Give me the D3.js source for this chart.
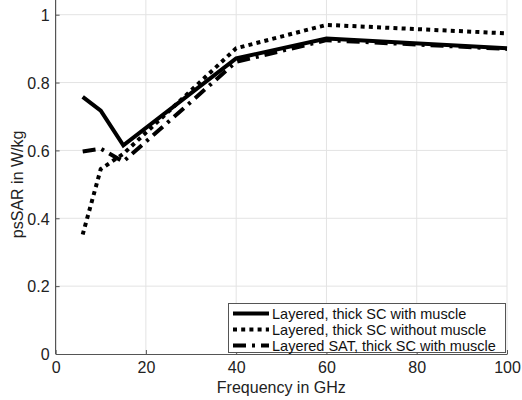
<!DOCTYPE html>
<html>
<head>
<meta charset="utf-8">
<script src="https://cdn.jsdelivr.net/npm/d3@7"></script>
<style>
  body { margin: 0; background: #fff; }
  svg { display: block; font-family: "Liberation Sans", Arial, sans-serif; }
</style>
</head>
<body>
<svg id="chart"></svg>
<script>
// frequencies (GHz)
const freqs = [6, 10, 15, 40, 60, 100];
// psSAR in W/kg
const withMuscle    = [0.758, 0.717, 0.615, 0.871, 0.930, 0.901];
const withoutMuscle = [0.352, 0.545, 0.59, 0.901, 0.970, 0.945];
const satMuscle     = [0.597, 0.605, 0.567, 0.861, 0.925, 0.899];
const seriesNames = ["Layered, thick SC with muscle", "Layered, thick SC without muscle", "Layered  SAT, thick SC with muscle"];
const xTicks = [0, 20, 40, 60, 80, 100];
const yTicks = [0, 0.2, 0.4, 0.6, 0.8, 1];

let width = 522, height = 400;
let svg = d3.select("#chart").attr("width", width).attr("height", height);

let x = d3.scaleLinear().domain([0, 100]).range([55.6, 507]);
let y = d3.scaleLinear().domain([0, 1]).range([354, 14.7]);
let yTop = 0;

// grid
svg.append("g").selectAll("line.vg")
    .data(xTicks.slice(1))
    .join("line")
    .attr("x1", d => x(d)).attr("x2", d => x(d))
    .attr("y1", y(0)).attr("y2", yTop)
    .attr("stroke", "#e3e3e3").attr("stroke-width", 1);
svg.append("g").selectAll("line.hg")
    .data(yTicks.slice(1))
    .join("line")
    .attr("x1", x(0)).attr("x2", x(100))
    .attr("y1", d => y(d)).attr("y2", d => y(d))
    .attr("stroke", "#e3e3e3").attr("stroke-width", 1);

// axes
let xAxis = svg.append("g")
    .attr("transform", "translate(0," + y(0) + ")")
    .call(d3.axisBottom(x).tickValues(xTicks).tickSizeInner(-4).tickSizeOuter(0).tickPadding(8));
let yAxis = svg.append("g")
    .attr("transform", "translate(" + x(0) + ",0)")
    .call(d3.axisLeft(y).tickValues(yTicks).tickFormat(d => d3.format("")(d)).tickSizeInner(-4).tickSizeOuter(0).tickPadding(6));
yAxis.select(".domain").attr("d", "M0," + y(0) + "V" + yTop);
[xAxis, yAxis].forEach(a => {
    a.select(".domain").attr("stroke", "#555").attr("stroke-width", 1.2);
    a.selectAll(".tick line").attr("stroke", "#555");
    a.selectAll(".tick text").attr("font-size", "16px").attr("fill", "#222")
        .attr("font-family", "Liberation Sans, Arial, sans-serif");
});
xAxis.selectAll(".tick text").attr("dy", "0.71em");
yAxis.selectAll(".tick text").attr("dy", "0.36em");

// axis labels
svg.append("text")
    .attr("x", (x(0) + x(100)) / 2)
    .attr("y", 393)
    .attr("text-anchor", "middle")
    .attr("font-size", "16px")
    .attr("fill", "#222")
    .text("Frequency in GHz");
svg.append("text")
    .attr("transform", "translate(23," + y(0.5) + ") rotate(-90)")
    .attr("text-anchor", "middle")
    .attr("font-size", "16px")
    .attr("fill", "#222")
    .text("psSAR in W/kg");

// lines
let styles = [
    {dash: null, cap: "butt"},
    {dash: "4,4.2", cap: "butt"},
    {dash: "13,6,3,6", cap: "butt"}
];
let allSeries = [withMuscle, withoutMuscle, satMuscle];
let line = d3.line().x(d => x(d[0])).y(d => y(d[1]));

svg.append("g").selectAll("path")
    .data(allSeries)
    .join("path")
    .attr("d", s => line(freqs.map((f, i) => [f, s[i]])))
    .attr("fill", "none")
    .attr("stroke", "#000")
    .attr("stroke-width", 4)
    .attr("stroke-linejoin", "miter")
    .attr("stroke-linecap", (s, i) => styles[i].cap)
    .attr("stroke-dasharray", (s, i) => styles[i].dash);

// legend
let legend = svg.append("g");
legend.append("rect")
    .attr("x", 228.5).attr("y", 303.5)
    .attr("width", 277).attr("height", 49)
    .attr("fill", "#fff")
    .attr("stroke", "#555").attr("stroke-width", 1);

legend.selectAll("line.key")
    .data(seriesNames)
    .join("line")
    .attr("x1", 233).attr("x2", 269)
    .attr("y1", (d, i) => 313.5 + i * 16)
    .attr("y2", (d, i) => 313.5 + i * 16)
    .attr("stroke", "#000")
    .attr("stroke-width", 4)
    .attr("stroke-dasharray", (d, i) => styles[i].dash);

legend.selectAll("text")
    .data(seriesNames)
    .join("text")
    .attr("x", 272)
    .attr("y", (d, i) => 313.5 + i * 16)
    .attr("dy", "0.36em")
    .attr("font-size", "14.5px")
    .attr("fill", "#111")
    .text(d => d);
</script>
</body>
</html>
